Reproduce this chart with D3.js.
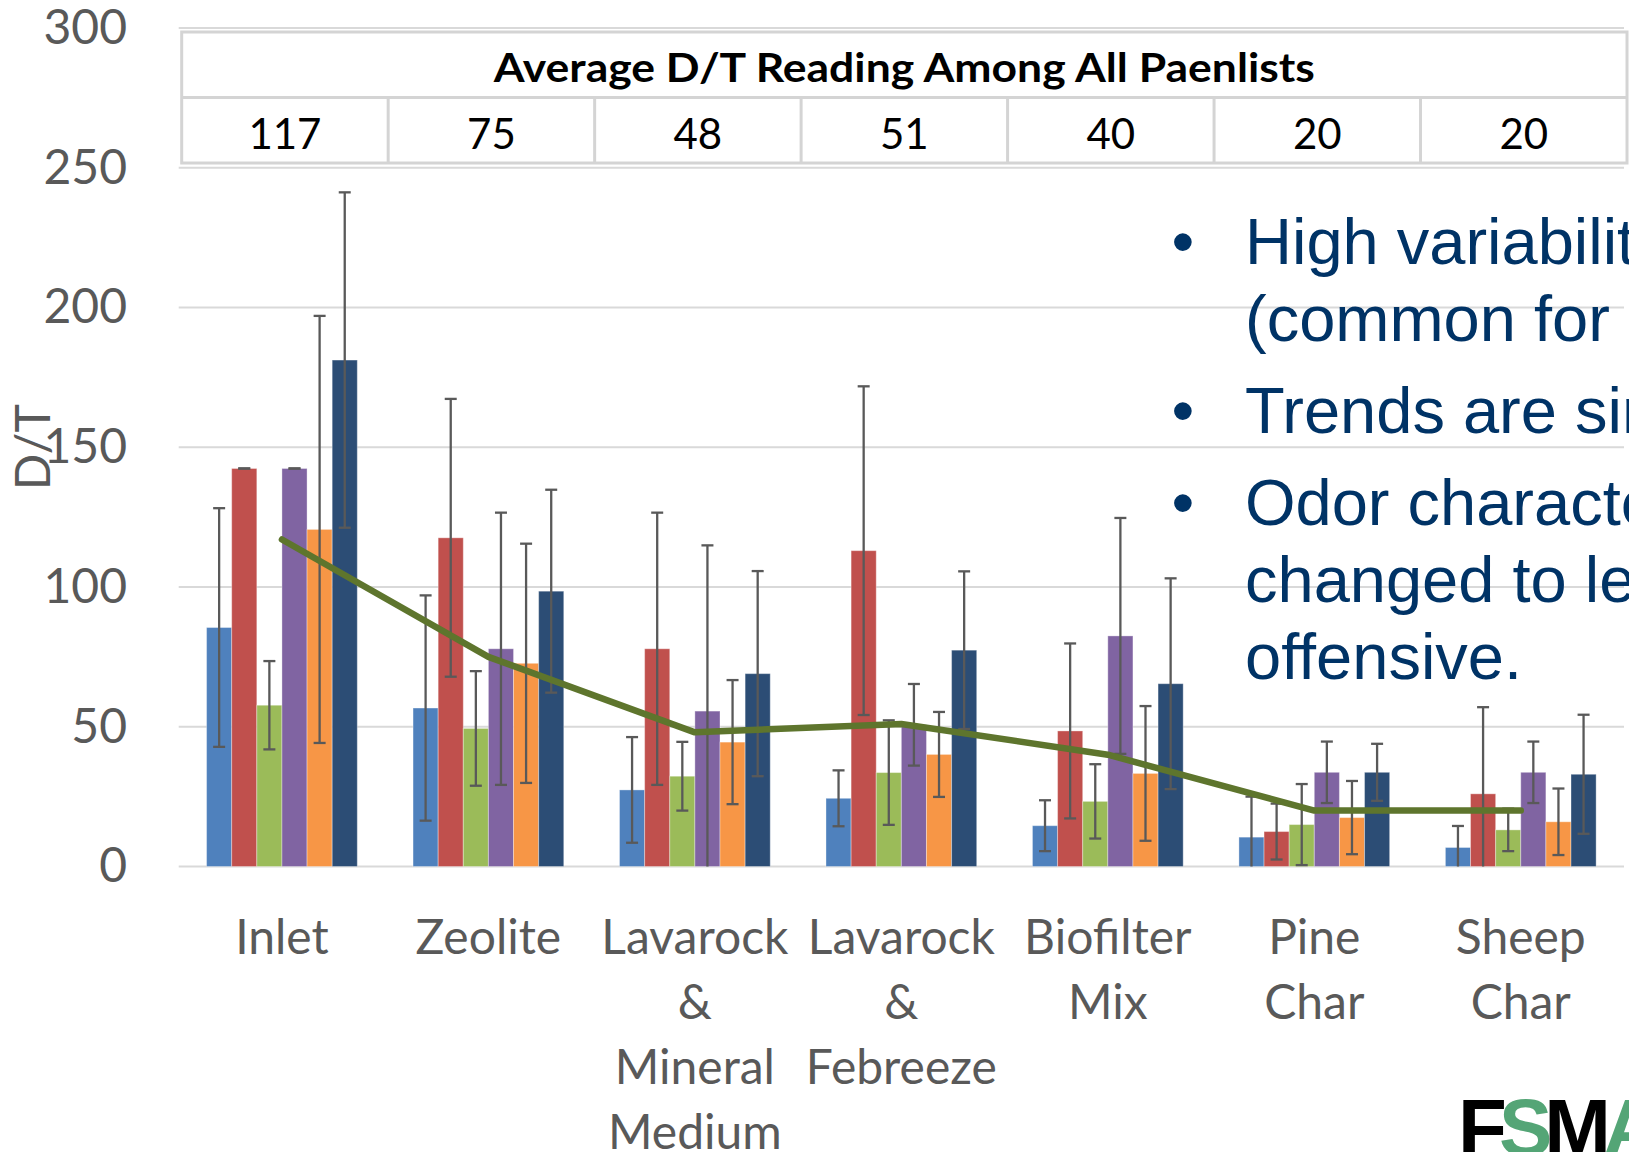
<!DOCTYPE html>
<html lang="en">

<head>
  <meta charset="UTF-8" />
  <title>D/T readings by filter medium</title>
  <script src="https://d3js.org/d3.v7.min.js"></script>
  <style>
    *,
    :before,
    :after {
      margin: 0;
      padding: 0;
      box-sizing: border-box;
    }

    body {
      background: #fff;
      overflow: hidden;
    }

    svg {
      display: block;
    }
  </style>
</head>

<body>
  <script>
    //data
    const categories = ['Inlet', 'Zeolite', 'Lavarock & Mineral Medium', 'Lavarock & Febreeze', 'Biofilter Mix', 'Pine Char', 'Sheep Char'];
    const categoryLines = [['Inlet'], ['Zeolite'], ['Lavarock', '&', 'Mineral', 'Medium'], ['Lavarock', '&', 'Febreeze'], ['Biofilter', 'Mix'], ['Pine', 'Char'], ['Sheep', 'Char']];
    const seriesNames = ['Panelist 1', 'Panelist 2', 'Panelist 3', 'Panelist 4', 'Panelist 5', 'Panelist 6'];
    const seriesColors = ['#4f81bd', '#c0504d', '#9bbb59', '#8064a2', '#f79646', '#2c4d75'];

    // mean D/T per panelist, one value per category
    const panelist1 = [85.5, 56.7, 27.4, 24.4, 14.6, 10.5, 6.8];
    const panelist2 = [142.4, 117.6, 77.9, 113.0, 48.5, 12.5, 26.0];
    const panelist3 = [57.7, 49.4, 32.3, 33.6, 23.3, 15.0, 13.1];
    const panelist4 = [142.4, 77.9, 55.6, 50.7, 82.5, 33.7, 33.7];
    const panelist5 = [120.6, 72.7, 44.5, 40.1, 33.3, 17.5, 16.0];
    const panelist6 = [181.2, 98.5, 69.0, 77.4, 65.4, 33.7, 33.0];

    // +/- error for each panelist
    const error1 = [42.7, 40.3, 18.9, 10.0, 9.1, 14.5, 7.7];
    const error2 = [0, 49.7, 48.7, 58.8, 31.3, 10.0, 31.0];
    const error3 = [15.8, 20.5, 12.3, 18.7, 13.3, 14.5, 7.6];
    const error4 = [0, 48.7, 59.3, 14.6, 42.2, 11.0, 11.0];
    const error5 = [76.4, 42.8, 22.2, 15.2, 24.1, 13.1, 11.9];
    const error6 = [60.0, 36.3, 36.7, 28.2, 37.7, 10.2, 21.3];

    const avgReading = [117, 75, 48, 51, 40, 20, 20];
    const yTicks = [0, 50, 100, 150, 200, 250, 300];
    const tableTitle = 'Average D/T Reading Among All Paenlists';
    const notes = [
      ['High variability in readings', '(common for odor panels)'],
      ['Trends are similar'],
      ['Odor characteristics', 'changed to less', 'offensive.']
    ];

    const values = [panelist1, panelist2, panelist3, panelist4, panelist5, panelist6];
    const errors = [error1, error2, error3, error4, error5, error6];

    //constants
    const [w, h] = [1629, 1152];
    const [plotLeft, plotRight, plotTop, plotBottom] = [178.7, 1624, 28, 866.5];
    const labelFont = 'Lato, "Open Sans", sans-serif';
    const grey = '#595959';

    let svg = d3.select('body')
      .append('svg')
      .attr('width', w)
      .attr('height', h)
      .style('background', '#fff');

    //scales
    const x0 = d3.scaleBand()
      .domain(categories)
      .range([plotLeft, plotRight])
      .paddingInner(0.27)
      .paddingOuter(0.135);

    const x1 = d3.scaleBand()
      .domain(seriesNames)
      .range([0, x0.bandwidth()]);

    const y = d3.scaleLinear()
      .domain([0, 300])
      .range([plotBottom, plotTop]);

    const center = c => x0(c) + x0.bandwidth() / 2;

    //gridlines
    svg.append('g')
      .selectAll('line')
      .data(yTicks)
      .join('line')
      .attr('x1', plotLeft)
      .attr('x2', plotRight)
      .attr('y1', d => y(d))
      .attr('y2', d => y(d))
      .attr('stroke', '#d9d9d9')
      .attr('stroke-width', 2);

    //y axis labels
    const yAxis = svg.append('g')
      .attr('transform', `translate(${plotLeft}, 0)`)
      .call(d3.axisLeft(y).tickValues(yTicks).tickSize(0).tickPadding(plotLeft - 127));
    yAxis.select('.domain').remove();
    yAxis.selectAll('text')
      .attr('font-family', labelFont)
      .attr('font-size', 48)
      .attr('fill', grey);

    svg.append('text')
      .attr('transform', `translate(50, ${y(150)}) rotate(-90)`)
      .attr('text-anchor', 'middle')
      .attr('font-family', labelFont)
      .attr('font-size', 48)
      .attr('fill', grey)
      .text('D/T');

    //x axis labels
    const xAxis = svg.append('g')
      .attr('transform', `translate(0, ${plotBottom})`)
      .call(d3.axisBottom(x0).tickSize(0));
    xAxis.select('.domain').remove();
    xAxis.selectAll('.tick text')
      .attr('font-family', labelFont)
      .attr('font-size', 48)
      .attr('fill', grey)
      .attr('y', 87)
      .attr('dy', 0)
      .text(null)
      .selectAll('tspan')
      .data(d => categoryLines[categories.indexOf(d)])
      .join('tspan')
      .attr('x', 0)
      .attr('dy', (d, i) => i ? 65.3 : 0)
      .text(d => d);

    //bars
    const rows = categories.map((c, i) => seriesNames.map((s, j) => ({
      cat: c, name: s, color: seriesColors[j], v: values[j][i], e: errors[j][i]
    })));

    const groups = svg.append('g')
      .selectAll('g')
      .data(rows)
      .join('g')
      .attr('transform', d => `translate(${x0(d[0].cat)}, 0)`);

    groups.selectAll('rect')
      .data(d => d)
      .join('rect')
      .attr('x', d => x1(d.name))
      .attr('y', d => y(d.v))
      .attr('width', x1.bandwidth())
      .attr('height', d => y(0) - y(d.v))
      .attr('fill', d => d.color)
      .attr('stroke', 'rgba(255,255,255,0.35)')
      .attr('stroke-width', 1);

    //error bars
    const cap = 6;
    const err = groups.selectAll('g.err')
      .data(d => d)
      .join('g')
      .attr('class', 'err')
      .attr('transform', d => `translate(${x1(d.name) + x1.bandwidth() / 2}, 0)`)
      .attr('stroke', grey)
      .attr('stroke-width', 2.3);

    err.append('line')
      .attr('y1', d => y(d.v + d.e))
      .attr('y2', d => y(Math.max(0, d.v - d.e)));
    err.append('line')
      .attr('x1', -cap).attr('x2', cap)
      .attr('y1', d => y(d.v + d.e))
      .attr('y2', d => y(d.v + d.e));
    err.filter(d => d.v - d.e > 0)
      .append('line')
      .attr('x1', -cap).attr('x2', cap)
      .attr('y1', d => y(d.v - d.e))
      .attr('y2', d => y(d.v - d.e));

    //average line
    svg.append('path')
      .datum(avgReading)
      .attr('fill', 'none')
      .attr('stroke', '#5e752d')
      .attr('stroke-width', 6.5)
      .attr('stroke-linejoin', 'round')
      .attr('stroke-linecap', 'round')
      .attr('d', d3.line().x((d, i) => center(categories[i])).y(d => y(d)));

    //table on top
    const step = x0.step();
    const tLeft = plotLeft + 3;
    const [tTop, rowH] = [32, 65.5];
    const table = svg.append('g')
      .attr('stroke', '#d4d4d4')
      .attr('stroke-width', 3);

    table.append('rect')
      .attr('x', tLeft)
      .attr('y', tTop)
      .attr('width', step * categories.length)
      .attr('height', rowH * 2)
      .attr('fill', '#fff');
    table.append('line')
      .attr('x1', tLeft).attr('x2', tLeft + step * categories.length)
      .attr('y1', tTop + rowH).attr('y2', tTop + rowH);
    table.selectAll('line.col')
      .data(categories.slice(1))
      .join('line')
      .attr('class', 'col')
      .attr('x1', (d, i) => tLeft + step * (i + 1))
      .attr('x2', (d, i) => tLeft + step * (i + 1))
      .attr('y1', tTop + rowH)
      .attr('y2', tTop + rowH * 2);

    svg.append('text')
      .attr('x', tLeft + step * categories.length / 2)
      .attr('y', tTop + 50)
      .attr('text-anchor', 'middle')
      .attr('font-family', labelFont)
      .attr('font-weight', 'bold')
      .attr('font-size', 41)
      .attr('fill', '#000')
      .attr('textLength', 821)
      .attr('lengthAdjust', 'spacingAndGlyphs')
      .text(tableTitle);

    svg.append('g')
      .selectAll('text')
      .data(avgReading)
      .join('text')
      .attr('x', (d, i) => tLeft + step * (i + 0.5))
      .attr('y', tTop + rowH + 51)
      .attr('text-anchor', 'middle')
      .attr('font-family', labelFont)
      .attr('font-size', 42)
      .attr('fill', '#000')
      .text(d => d);

    //bullet notes
    const noteLines = [];
    notes.forEach((lines, b) => lines.forEach((t, k) => noteLines.push({ t, b, first: k === 0 })));
    const noteG = svg.append('g')
      .attr('font-family', '"Liberation Sans", Arial, sans-serif')
      .attr('font-size', 65)
      .attr('fill', '#003366');
    noteG.selectAll('text.line')
      .data(noteLines)
      .join('text')
      .attr('class', 'line')
      .attr('x', 1245)
      .attr('y', (d, i) => 264 + i * 77 + d.b * 15)
      .text(d => d.t);
    noteG.selectAll('text.bullet')
      .data(noteLines.map((d, i) => ({ ...d, i })).filter(d => d.first))
      .join('text')
      .attr('class', 'bullet')
      .attr('x', 1183)
      .attr('y', d => 264 + d.i * 77 + d.b * 15)
      .attr('text-anchor', 'middle')
      .text('•');

    //logo corner
    const logo = svg.append('text')
      .attr('x', 1458)
      .attr('y', 1155)
      .attr('font-family', '"Liberation Sans", Arial, sans-serif')
      .attr('font-weight', 'bold')
      .attr('font-size', 80)
      .attr('letter-spacing', -8);
    [['F', '#000'], ['S', '#54a576'], ['M', '#000'], ['A', '#54a576']].forEach(([t, c]) => {
      logo.append('tspan').attr('fill', c).text(t);
    });
  </script>
</body>

</html>
